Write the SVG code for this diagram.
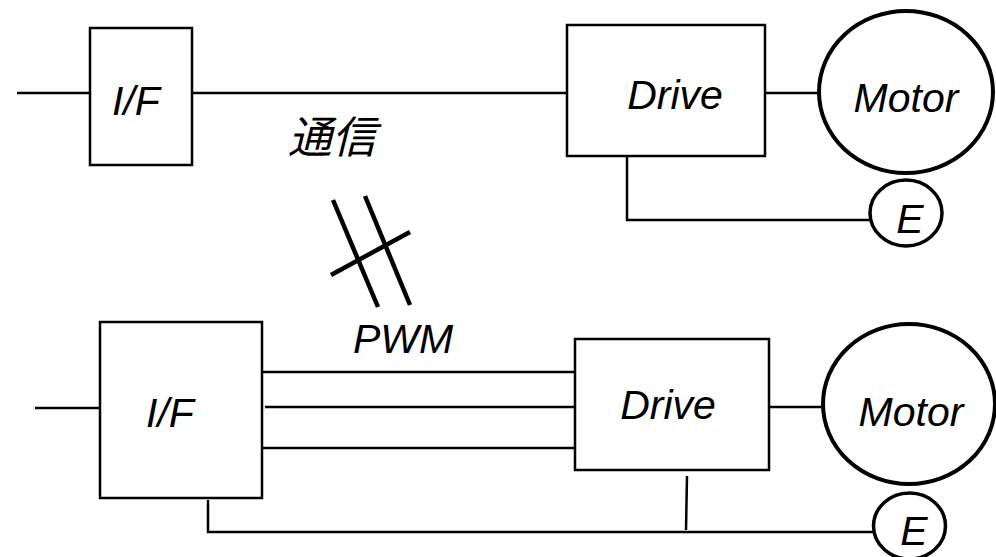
<svg xmlns="http://www.w3.org/2000/svg" width="996" height="557" viewBox="0 0 996 557">
<style>
.box{fill:#fff;stroke:#000;stroke-width:2.5}
.mot{fill:#fff;stroke:#000;stroke-width:4}
.enc{fill:#fff;stroke:#000;stroke-width:3.5}
.ln{stroke:#000;stroke-width:2.5;fill:none}
.hatch{stroke:#000;stroke-width:4.5;fill:none}
.t{font-family:"Liberation Sans",Arial,sans-serif;font-style:italic;font-size:41px;fill:#000;text-anchor:middle}
.cjk{font-family:"Liberation Sans","Noto Sans CJK JP",sans-serif;font-style:italic;font-size:44px;fill:#000;text-anchor:middle}
</style>
<rect width="996" height="557" fill="#fff"/>
<g id="connectors">
<line class="ln" x1="17" y1="93" x2="90" y2="93"/>
<line class="ln" x1="192" y1="93" x2="567" y2="93"/>
<line class="ln" x1="765" y1="93" x2="818" y2="93"/>
<polyline class="ln" points="627,156 627,220 870,220"/>
<line class="ln" x1="35" y1="408" x2="100" y2="408"/>
<line class="ln" x1="262" y1="372" x2="575" y2="372"/>
<line class="ln" x1="265" y1="407" x2="575" y2="407"/>
<line class="ln" x1="262" y1="448" x2="575" y2="448"/>
<line class="ln" x1="769" y1="407" x2="823" y2="407"/>
<polyline class="ln" points="208,500 208,532 873,532"/>
<line class="ln" x1="687" y1="476" x2="686" y2="530"/>
</g>
<g id="hatch">
<line class="hatch" x1="333" y1="200" x2="378" y2="307"/>
<line class="hatch" x1="365" y1="196" x2="410" y2="305"/>
<line class="hatch" x1="331" y1="275" x2="410" y2="232"/>
</g>
<g id="label-tsushin"><text class="cjk" x="332" y="153">通信</text></g>
<g id="label-pwm"><text class="t" x="403" y="353">PWM</text></g>
<g id="if1"><rect class="box" x="90" y="28" width="102" height="137"/><text class="t" x="136" y="115">I/F</text></g>
<g id="drive1"><rect class="box" x="567" y="25" width="198" height="131"/><text class="t" x="675" y="109">Drive</text></g>
<g id="motor1"><ellipse class="mot" cx="906" cy="92" rx="87" ry="81"/><text class="t" x="906" y="112">Motor</text></g>
<g id="enc1"><ellipse class="enc" cx="906" cy="213" rx="36" ry="33"/><text class="t" x="910" y="233">E</text></g>
<g id="if2"><rect class="box" x="100" y="322" width="162" height="176"/><text class="t" x="170" y="427">I/F</text></g>
<g id="drive2"><rect class="box" x="575" y="339" width="194" height="131"/><text class="t" x="668" y="419">Drive</text></g>
<g id="motor2"><ellipse class="mot" cx="909" cy="404" rx="86" ry="80"/><text class="t" x="911" y="426">Motor</text></g>
<g id="enc2"><ellipse class="enc" cx="909.5" cy="526" rx="36" ry="33"/><text class="t" x="914" y="545">E</text></g>
</svg>
